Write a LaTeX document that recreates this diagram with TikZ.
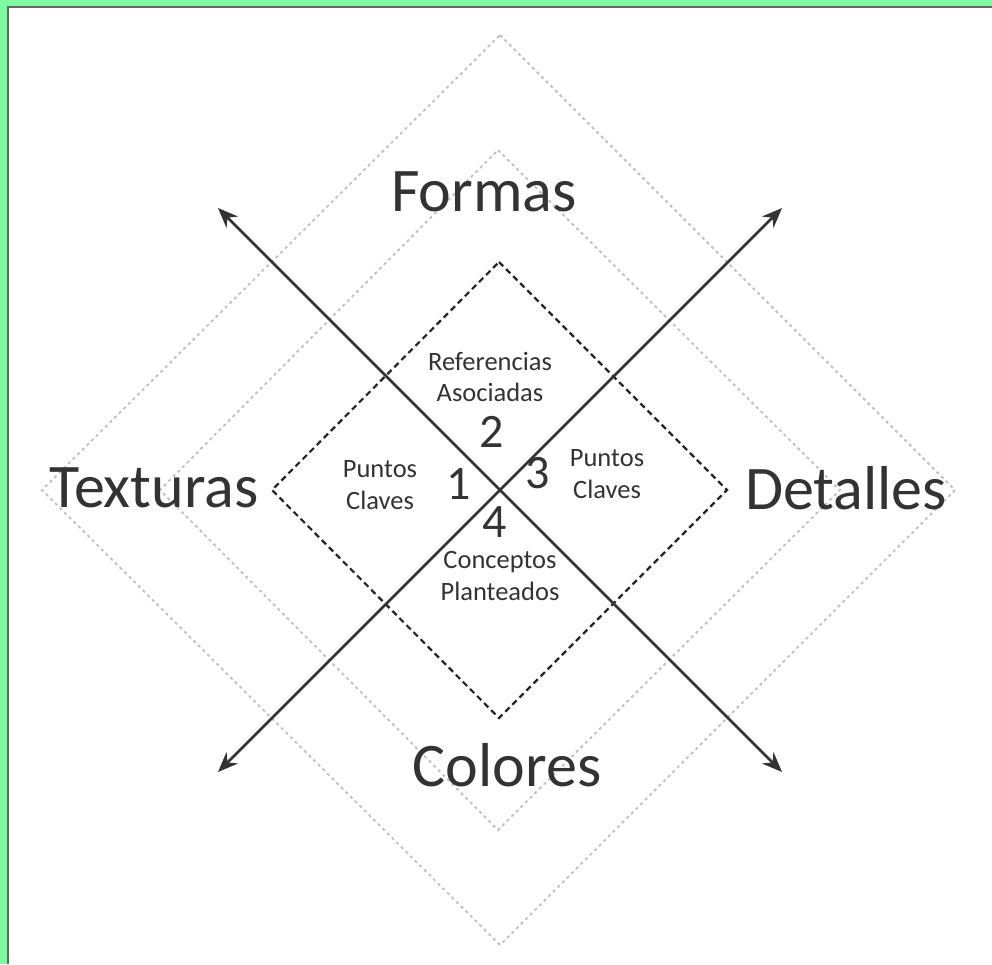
\documentclass[tikz,border=0pt]{standalone}
\usepackage{fontspec}
\setmainfont{Carlito}
\usetikzlibrary{arrows.meta}
\definecolor{frameGreen}{RGB}{128,250,160}
\definecolor{ink}{RGB}{51,51,51}
\tikzset{
  bigtxt/.style={text=ink, font=\fontsize{62}{64}\selectfont, inner sep=0pt},
  smalltxt/.style={text=ink, font=\fontsize{26.5}{31.5}\selectfont, align=center, inner sep=0pt},
  numtxt/.style={text=ink, font=\fontsize{48}{50}\selectfont, inner sep=0pt},
  axis/.style={draw=ink, line width=2.8pt, {Stealth[length=20pt,width=16pt]}-{Stealth[length=20pt,width=16pt]}},
  innerdiam/.style={draw=black!85, line width=2.2pt, dash pattern=on 6pt off 4pt},
  graydiam/.style={draw=black!25, line width=1.8pt, dash pattern=on 3pt off 3.5pt}
}
\begin{document}
\begin{tikzpicture}[x=1pt,y=-1pt]
\useasboundingbox (0,0) rectangle (992,964);
\fill[white] (0,0) rectangle (992,964);
\fill[frameGreen] (0,0) rectangle (992,6);
\fill[frameGreen] (0,0) rectangle (7,964);
\fill[black!60] (7,6) rectangle (992,7.5);
\fill[black!60] (7,6) rectangle (8.5,964);
\draw[graydiam] (500,35) -- (955,490) -- (500,945) -- (42,490) -- cycle;
\draw[graydiam] (498,150) -- (840,490) -- (498,830) -- (160,490) -- cycle;
\draw[innerdiam] (499,262) -- (727,490) -- (499,718) -- (272,490) -- cycle;
\coordinate (nw) at (218,208);
\coordinate (se) at (782,772);
\coordinate (ne) at (782,208);
\coordinate (sw) at (218,772);
\draw[axis] (nw) -- (se);
\draw[axis] (ne) -- (sw);
\node[bigtxt] (formas) at (484,192) {Formas};
\node[bigtxt] (texturas) at (154,488) {Texturas};
\node[bigtxt] (detalles) at (846,488) {Detalles};
\node[bigtxt] (colores) at (507,765) {Colores};
\node[smalltxt] (ref) at (490,377) {Referencias\\Asociadas};
\node[smalltxt] (pcl) at (380,485) {Puntos\\Claves};
\node[smalltxt] (pcr) at (607,474) {Puntos\\Claves};
\node[smalltxt] (con) at (500,576) {Conceptos\\Planteados};
\node[numtxt] (n2) at (492,432) {2};
\node[numtxt] (n1) at (459,484) {1};
\node[numtxt] (n3) at (538,473) {3};
\node[numtxt] (n4) at (495,522) {4};
\end{tikzpicture}
\end{document}
